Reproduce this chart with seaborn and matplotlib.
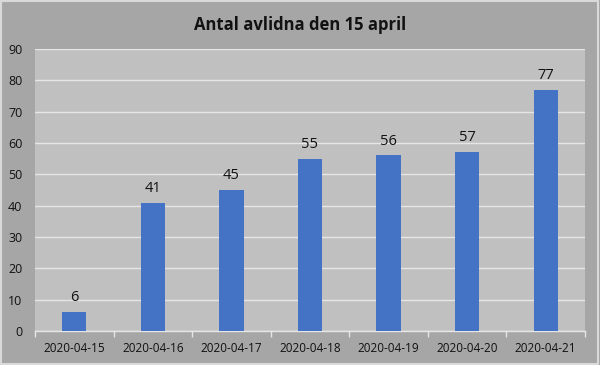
"""Antal avlidna per dag, stapeldiagram i Excel-stil."""

import matplotlib

matplotlib.use("Agg")
import matplotlib.pyplot as plt
import pandas as pd
import seaborn as sns

dates = ["2020-04-15", "2020-04-16", "2020-04-17", "2020-04-18",
         "2020-04-19", "2020-04-20", "2020-04-21"]
deaths = [6, 41, 45, 55, 56, 57, 77]
y_ticks = [0, 10, 20, 30, 40, 50, 60, 70, 80, 90]

frame = pd.DataFrame({"datum": dates, "avlidna": deaths})

sns.set_theme(style="white")
plt.rcParams["font.family"] = ["Open Sans", "DejaVu Sans"]

fig = plt.figure(figsize=(6, 3.65), dpi=100, facecolor="#a6a6a6")
ax = fig.add_axes([0.0583, 0.093, 0.9167, 0.773])
ax.set_facecolor("#c0c0c0")

sns.barplot(data=frame, x="datum", y="avlidna", color="#4472c4",
            width=0.31, saturation=1, linewidth=0, ax=ax, zorder=3)

# Etiketter ovanför staplarna
for container in ax.containers:
    ax.bar_label(container, padding=5, fontsize=10.5, color="#111111")

ax.set_ylim(0, 90)
ax.set_yticks(y_ticks)
ax.set_xlim(-0.5, len(dates) - 0.5)
ax.grid(axis="y", color="#e6e6e6", linewidth=1, zorder=0)
ax.set_axisbelow(True)
for side in ["top", "right", "left"]:
    ax.spines[side].set_visible(False)
ax.spines["bottom"].set_color("#e6e6e6")
ax.spines["bottom"].set_linewidth(1)

# Tick-streck mellan kategorierna
ax.set_xticks([i - 0.5 for i in range(len(dates) + 1)], minor=True)
ax.tick_params(axis="x", which="minor", length=4, color="#e6e6e6", width=1, bottom=True)
ax.tick_params(axis="x", which="major", length=0, labelsize=8.5, pad=8, labelcolor="#111111")
ax.tick_params(axis="y", length=0, labelsize=9, pad=9, labelcolor="#111111")
ax.set_xlabel("")
ax.set_ylabel("")

fig.suptitle("Antal avlidna den 15 april", y=0.955, fontsize=12,
             fontweight="bold", color="#111111")

# Ljus ram runt hela diagrammet
border = plt.Rectangle((0.002, 0.003), 0.995, 0.993, transform=fig.transFigure,
                       fill=False, edgecolor="#d9d9d9", linewidth=1.5)
fig.patches.append(border)

fig.savefig("out.png", dpi=100, facecolor=fig.get_facecolor())
plt.close(fig)
